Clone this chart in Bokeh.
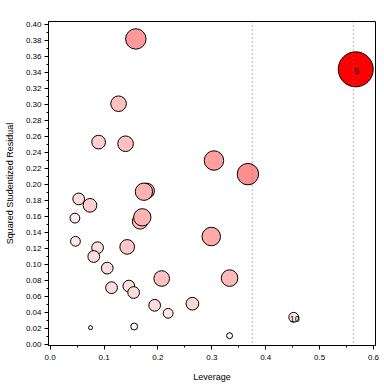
from bokeh.plotting import figure
from bokeh.models import ColumnDataSource, FixedTicker, Span, Range1d, NumeralTickFormatter
from bokeh.embed import file_html
from bokeh.resources import INLINE
from bokeh.core.properties import value

# ---- data ----
leverage = [0.159, 0.127, 0.090, 0.140, 0.304, 0.367, 0.567, 0.179, 0.174, 0.167, 0.171,
            0.053, 0.074, 0.046, 0.047, 0.088, 0.081, 0.143, 0.106, 0.114, 0.146, 0.155,
            0.207, 0.194, 0.219, 0.264, 0.075, 0.156, 0.299, 0.333, 0.452, 0.333]
sq_rstudent = [0.382, 0.301, 0.253, 0.251, 0.230, 0.213, 0.344, 0.192, 0.191, 0.154, 0.159,
               0.182, 0.174, 0.158, 0.129, 0.121, 0.110, 0.122, 0.0955, 0.071, 0.073, 0.065,
               0.0825, 0.049, 0.039, 0.051, 0.021, 0.0225, 0.135, 0.083, 0.034, 0.011]
influence = [0.405, 0.246, 0.19, 0.246, 0.371, 0.44, 1.0, 0.246, 0.30, 0.246, 0.30,
             0.138, 0.19, 0.092, 0.092, 0.138, 0.138, 0.218, 0.138, 0.138, 0.138, 0.138,
             0.246, 0.138, 0.092, 0.163, 0.0, 0.034, 0.339, 0.276, 0.092, 0.019]
obs_label = [""] * 32
obs_label[6] = "5"
obs_label[30] = "10"
ref_lines = [0.375, 0.5625]
x_ticks = [0.0, 0.1, 0.2, 0.3, 0.4, 0.5, 0.6]
y_ticks = [round(i * 0.02, 2) for i in range(21)]

# ---- styling derived from influence ----
def to_color(v):
    c = int(round(255 * (1 - v)))
    return "#%02x%02x%02x" % (255, c, c)

sizes = [2 * (2 + 15.5 * (v ** 0.7)) for v in influence]
colors = [to_color(v) for v in influence]

src = ColumnDataSource(dict(x=leverage, y=sq_rstudent, size=sizes, color=colors, label=obs_label))

FONT = "Liberation Sans"

p = figure(width=384, height=384, output_backend="svg", toolbar_location=None,
           x_range=Range1d(-0.003, 0.6037), y_range=Range1d(-0.00125, 0.4038),
           min_border_left=48, min_border_right=9, min_border_top=21, min_border_bottom=39)
p.grid.visible = False
p.background_fill_color = "white"
p.border_fill_color = "white"
p.outline_line_color = "black"
p.outline_line_width = 1
p.outline_line_alpha = 1

for xr in ref_lines:
    p.add_layout(Span(location=xr, dimension="height", line_color="#707070",
                      line_width=1, line_dash="1 3"))

p.scatter("x", "y", size="size", fill_color="color", line_color="black", line_width=1,
          source=src)

p.text("x", "y", text="label", source=src, text_font=value(FONT), text_font_size="9px",
       text_align="center", text_baseline="middle", text_color="black",
       x_offset=1, y_offset=2)

# axes
p.xaxis.ticker = FixedTicker(ticks=x_ticks, minor_ticks=[round(0.05 + 0.1 * i, 2) for i in range(6)])
p.yaxis.ticker = FixedTicker(ticks=y_ticks, minor_ticks=[round(0.01 + 0.02 * i, 2) for i in range(20)])
p.xaxis.formatter = NumeralTickFormatter(format="0.0")
p.yaxis.formatter = NumeralTickFormatter(format="0.00")
for ax in (p.xaxis[0], p.yaxis[0]):
    ax.axis_line_color = "black"
    ax.major_tick_line_color = "black"
    ax.minor_tick_line_color = "black"
    ax.major_tick_out = 4
    ax.major_tick_in = 0
    ax.minor_tick_out = 2
    ax.minor_tick_in = 0
    ax.major_label_text_font = FONT
    ax.major_label_text_font_size = "8px"
    ax.major_label_text_color = "black"
    ax.axis_label_text_font = FONT
    ax.axis_label_text_font_size = "9px"
    ax.axis_label_text_font_style = "normal"
    ax.axis_label_text_color = "black"

p.xaxis.axis_label = "Leverage"
p.yaxis.axis_label = "Squared Studentized Residual"
p.xaxis.major_label_standoff = 5
p.yaxis.major_label_standoff = 3
p.xaxis.axis_label_standoff = 9
p.yaxis.axis_label_standoff = 8

open("out.html", "w").write(file_html(p, INLINE))
